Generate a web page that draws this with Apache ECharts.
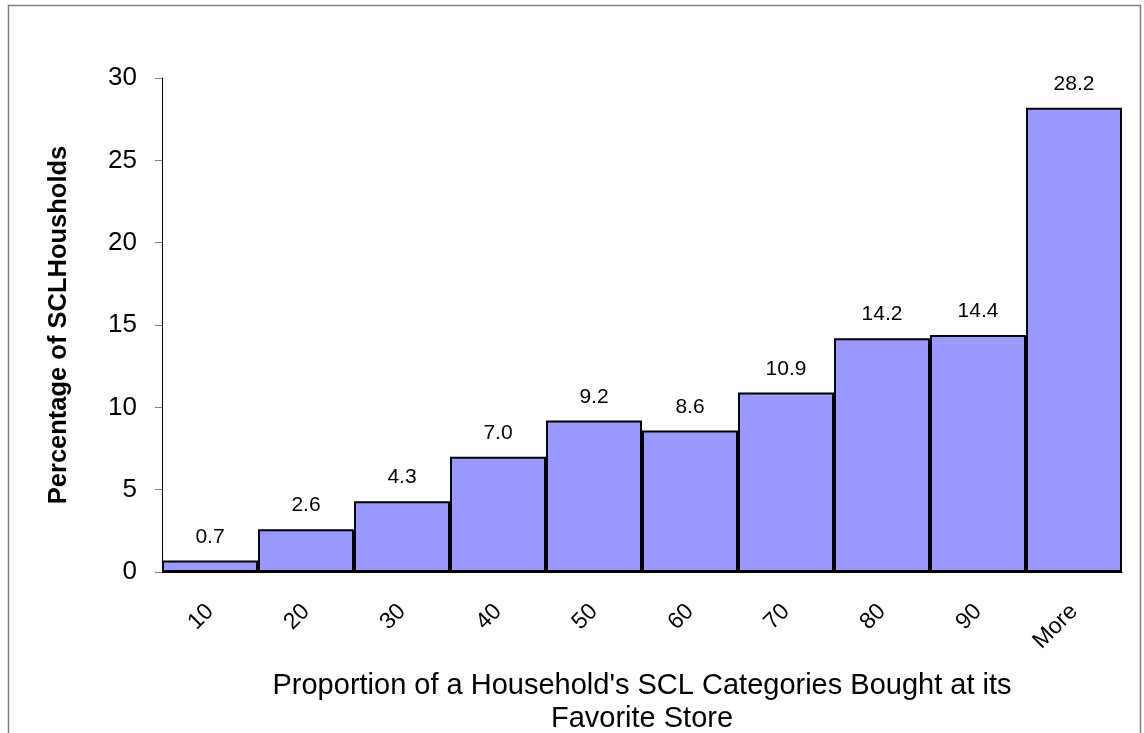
<!DOCTYPE html>
<html>
<head>
<meta charset="utf-8">
<script src="https://cdn.jsdelivr.net/npm/echarts@6/dist/echarts.min.js"></script>
<style>
  html, body { margin: 0; padding: 0; background: #fff; }
  #chart { width: 1144px; height: 733px; }
</style>
</head>
<body>
<div id="chart"></div>
<script>
// histogram buckets and percentages
const categories = ['10', '20', '30', '40', '50', '60', '70', '80', '90', 'More'];
const percents = [0.7, 2.6, 4.3, 7.0, 9.2, 8.6, 10.9, 14.2, 14.4, 28.2];

const chart = echarts.init(document.getElementById('chart'));

const option = {
    animation: false,
    textStyle: { fontFamily: 'Liberation Sans, Arial, sans-serif', color: '#000' },
    graphic: [{
        type: 'rect',
        shape: { x: 8.5, y: 5.5, width: 1132, height: 800 },
        style: { fill: 'none', stroke: '#808080', lineWidth: 1.5 },
        silent: true
    }],
    grid: { left: 162, right: 22, top: 78, bottom: 161, containLabel: false, outerBoundsMode: 'none' },
    xAxis: {
        type: 'category',
        data: categories,
        axisLine: { lineStyle: { color: '#000', width: 1 } },
        axisTick: { show: false },
        axisLabel: {
            rotate: 45, fontSize: 23, color: '#000', margin: 36
        },
        name: "Proportion of a Household's SCL Categories Bought at its\nFavorite Store",
        nameLocation: 'middle',
        nameGap: 97,
        nameTextStyle: { fontSize: 29, color: '#000', lineHeight: 33 }
    },
    yAxis: {
        type: 'value',
        min: 0, max: 30, interval: 5,
        splitLine: { show: false },
        axisLine: { show: true, lineStyle: { color: '#000', width: 1 } },
        axisTick: { show: true, length: 7, lineStyle: { color: '#808080' } },
        axisLabel: { fontSize: 26, color: '#000', margin: 25 },
        name: 'Percentage of SCLHousholds',
        nameLocation: 'middle',
        nameGap: 90,
        nameTextStyle: { fontSize: 25.5, fontWeight: 'bold', color: '#000' }
    },
    series: [{
        type: 'bar',
        data: percents,
        barCategoryGap: 0,
        itemStyle: { color: '#9999ff', borderColor: '#000', borderWidth: 2 },
        label: {
            show: true, position: 'top', distance: 13,
            fontSize: 21, color: '#000',
            formatter: p => p.value.toFixed(1)
        }
    }]
};

chart.setOption(option);
</script>
</body>
</html>
